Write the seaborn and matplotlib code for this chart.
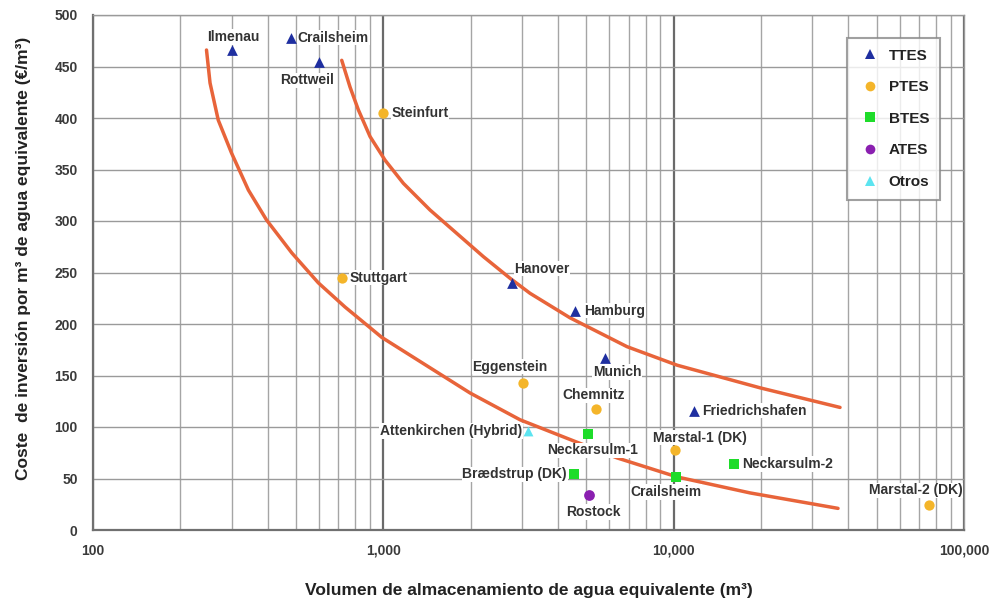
import matplotlib
matplotlib.use("Agg")
import matplotlib.pyplot as plt
import matplotlib.ticker as mticker
from matplotlib.lines import Line2D
import seaborn as sns
import pandas as pd

# ---------------- data ----------------
nombres = ["Ilmenau", "Crailsheim", "Rottweil", "Steinfurt", "Stuttgart",
           "Hanover", "Hamburg", "Munich", "Eggenstein", "Chemnitz",
           "Friedrichshafen", "Attenkirchen (Hybrid)", "Neckarsulm-1",
           "Marstal-1 (DK)", "Neckarsulm-2", "Brædstrup (DK)", "Crailsheim ",
           "Rostock", "Marstal-2 (DK)"]
tipos = ["TTES", "TTES", "TTES", "PTES", "PTES",
         "TTES", "TTES", "TTES", "PTES", "PTES",
         "TTES", "Otros", "BTES",
         "PTES", "BTES", "BTES", "BTES",
         "ATES", "PTES"]
volumen = [300, 480, 600, 1000, 720,
           2780, 4580, 5800, 3030, 5400,
           11750, 3150, 5070,
           10100, 16150, 4540, 10200,
           5110, 76000]
coste = [466, 478, 454, 405, 245,
         240, 213, 167, 143, 117,
         116, 96, 93,
         78, 64, 54, 51.5,
         34, 24]

curva1_x = [246, 253, 270, 300, 343, 396, 484, 597, 738, 988, 1990, 2958,
            4295, 6383, 10280, 18330, 36820]
curva1_y = [466, 434, 398, 366, 330, 301, 269, 240, 216.5, 187, 133, 107,
            89, 70, 51.5, 36, 21]
curva2_x = [719, 768, 820, 900, 1014, 1172, 1448, 1790, 2211, 2732, 3201,
            4396, 6906, 10280, 19860, 37410]
curva2_y = [456, 430, 408, 382, 359, 336.6, 310.7, 288, 265.4, 244.4, 229.8,
            206, 178, 160, 138, 119]

categorias = ["TTES", "PTES", "BTES", "ATES", "Otros"]
x_ticks = [100, 1000, 10000, 100000]
x_ticklabels = ["100", "1,000", "10,000", "100,000"]
y_ticks = [0, 50, 100, 150, 200, 250, 300, 350, 400, 450, 500]

# ---------------- style ----------------
colores = {"TTES": "#1f2fa0", "PTES": "#f4b52a", "BTES": "#1edc2a",
           "ATES": "#8a1fb0", "Otros": "#5ce4f0"}
marcadores = {"TTES": "^", "PTES": "o", "BTES": "s", "ATES": "o", "Otros": "^"}
tam = {"TTES": 60, "PTES": 55, "BTES": 55, "ATES": 60, "Otros": 50}
curva_color = "#e8643a"
texto_color = "#333333"

# label offsets in pixels (dx, dy up-positive) and alignment
offsets = {
    "Ilmenau": (2, 13, "center"),
    "Crailsheim": (7, 0, "left"),
    "Rottweil": (-12, -18, "center"),
    "Steinfurt": (8, 0, "left"),
    "Stuttgart": (8, 0, "left"),
    "Hanover": (2, 14, "left"),
    "Hamburg": (9, 0, "left"),
    "Munich": (12, -14, "center"),
    "Eggenstein": (-13, 16, "center"),
    "Chemnitz": (-2, 14, "center"),
    "Friedrichshafen": (8, 0, "left"),
    "Attenkirchen (Hybrid)": (-6, 0, "right"),
    "Neckarsulm-1": (5, -16, "center"),
    "Marstal-1 (DK)": (25, 12, "center"),
    "Neckarsulm-2": (8, 0, "left"),
    "Brædstrup (DK)": (-7, 0, "right"),
    "Crailsheim ": (-10, -15, "center"),
    "Rostock": (4, -17, "center"),
    "Marstal-2 (DK)": (-14, 15, "center"),
}

sns.set_style("white")
plt.rcParams["font.family"] = ["Liberation Sans", "DejaVu Sans"]

fig = plt.figure(figsize=(10.03, 6.06), dpi=100)
ax = fig.add_axes([93 / 1003, 1 - 530 / 606, (964 - 93) / 1003, (530 - 15) / 606])

df = pd.DataFrame({"nombre": nombres, "tipo": tipos, "volumen": volumen, "coste": coste})

ax.set_xscale("log")
ax.set_xlim(100, 100000)
ax.set_ylim(0, 500)

# grid
ax.yaxis.grid(True, color="#9a9a9a", lw=1.0, zorder=0)
ax.xaxis.grid(True, which="minor", color="#a5a5a5", lw=1.0, zorder=0)
ax.xaxis.grid(True, which="major", color="#6a6a6a", lw=1.6, zorder=0)
ax.set_axisbelow(True)

# trend curves
sns.lineplot(x=curva1_x, y=curva1_y, sort=False, estimator=None, color=curva_color,
             lw=2.5, ax=ax, zorder=2)
sns.lineplot(x=curva2_x, y=curva2_y, sort=False, estimator=None, color=curva_color,
             lw=2.5, ax=ax, zorder=2)

# points
for cat in categorias:
    sub = df[df["tipo"] == cat]
    sns.scatterplot(data=sub, x="volumen", y="coste", color=colores[cat],
                    marker=marcadores[cat], s=tam[cat], linewidth=0, ax=ax,
                    zorder=4, legend=False)

# labels
for n, v, c in zip(nombres, volumen, coste):
    dx, dy, ha = offsets[n]
    ax.annotate(n.strip(), (v, c), xytext=(dx * 0.72, dy * 0.72),
                textcoords="offset points", ha=ha, va="center",
                fontsize=10, fontweight="bold", color=texto_color, zorder=3,
                bbox=dict(boxstyle="square,pad=0.05", fc="white", ec="none"))

# axes styling
ax.set_xticks(x_ticks)
ax.set_xticklabels(x_ticklabels)
ax.xaxis.set_minor_locator(mticker.LogLocator(base=10, subs=range(2, 10)))
ax.xaxis.set_minor_formatter(mticker.NullFormatter())
ax.set_yticks(y_ticks)
ax.tick_params(axis="both", which="major", labelsize=10, colors="#3a3a3a",
               length=5, width=1, pad=6)
ax.tick_params(axis="x", which="minor", length=0)
ax.tick_params(axis="x", which="major", length=0, pad=10)
for lab in ax.get_xticklabels() + ax.get_yticklabels():
    lab.set_fontweight("bold")
for side in ["left", "bottom"]:
    ax.spines[side].set_color("#707070")
    ax.spines[side].set_linewidth(1.6)
for side in ["top", "right"]:
    ax.spines[side].set_color("#9a9a9a")
    ax.spines[side].set_linewidth(1.0)

ax.set_xlabel("Volumen de almacenamiento de agua equivalente (m³)",
              fontsize=12.5, fontweight="bold", color="#222222", labelpad=18)
ax.set_ylabel("Coste  de inversión por m³ de agua equivalente (€/m³)",
              fontsize=12.5, fontweight="bold", color="#222222")
ax.yaxis.set_label_coords((31 - 93) / 871, (530 - 258) / 515)

# legend
handles = [Line2D([], [], ls="none", marker=marcadores[c], color=colores[c],
                  markersize=7, markeredgewidth=0) for c in categorias]
leg = ax.legend(handles, categorias, loc="upper right",
                bbox_to_anchor=(940 / 1003, 1 - 38 / 606), bbox_transform=fig.transFigure,
                frameon=True, fancybox=False, prop={"weight": "bold", "size": 11},
                labelspacing=1.15, handletextpad=0.4, handlelength=1.6,
                borderpad=0.7, borderaxespad=0)
leg.get_frame().set_edgecolor("#888888")
leg.get_frame().set_linewidth(1.5)
for t in leg.get_texts():
    t.set_color("#222222")

fig.savefig("out.png", dpi=100)
